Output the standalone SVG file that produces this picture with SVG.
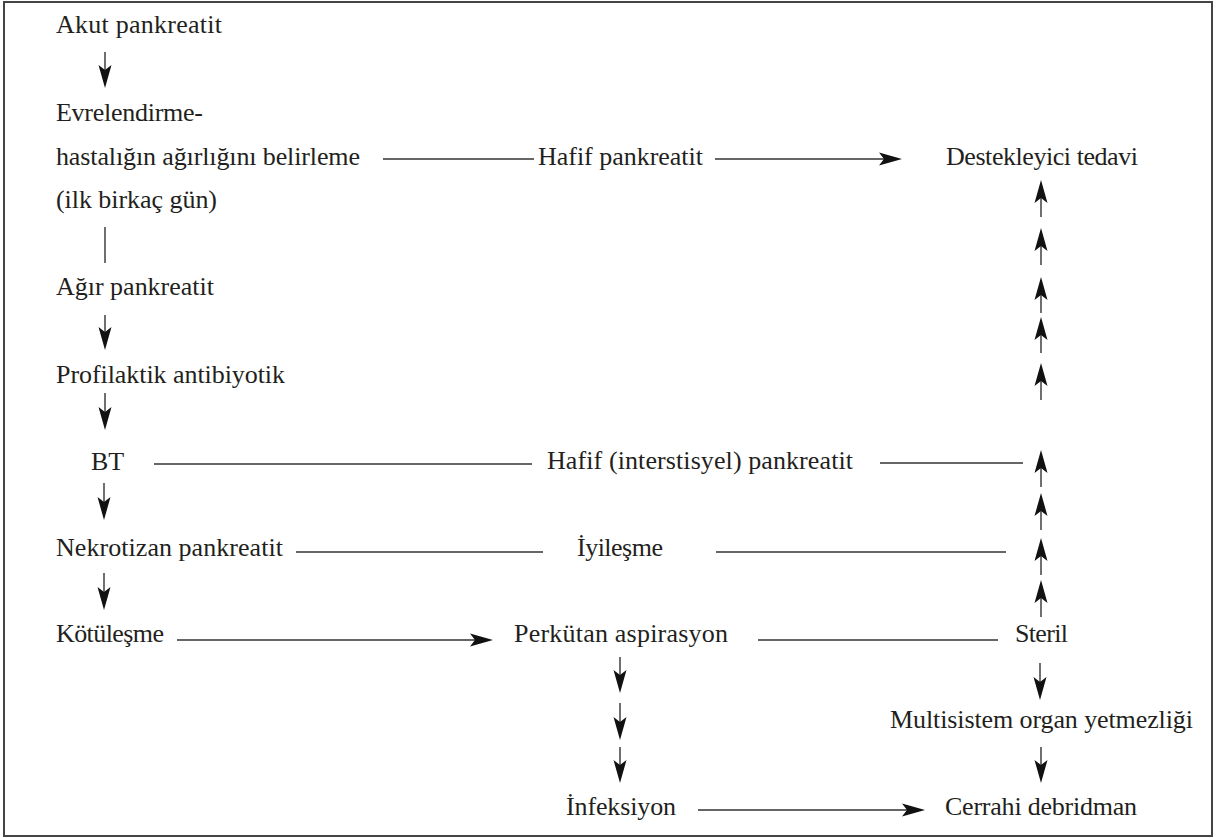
<svg xmlns="http://www.w3.org/2000/svg" width="1220" height="838" viewBox="0 0 1220 838">
<style>
text{font-family:"Liberation Serif","Times New Roman",serif;font-size:26px;fill:#231f20}
.ln{stroke:#333;stroke-width:1.4;fill:none}
.ar{stroke:#333;stroke-width:1.4;fill:none;marker-end:url(#ah)}
</style>
<defs>
<marker id="ah" viewBox="-24 -8 25 16" refX="-10" refY="0" markerWidth="25" markerHeight="16" markerUnits="userSpaceOnUse" orient="auto">
<path d="M0,0 L-23,-6.5 L-18,0 L-23,6.5 Z" fill="#111"/>
</marker>
</defs>
<rect x="4" y="2" width="1208" height="834" fill="#fff" stroke="#444" stroke-width="2"/>
<g id="nodes">
<g id="n-akut"><text x="56" y="33" textLength="166" lengthAdjust="spacing">Akut pankreatit</text></g>
<g id="n-evre"><text x="56" y="121" textLength="147" lengthAdjust="spacing">Evrelendirme-</text><text x="56" y="165" textLength="304" lengthAdjust="spacing">hastalığın ağırlığını belirleme</text><text x="56" y="208" textLength="161" lengthAdjust="spacing">(ilk birkaç gün)</text></g>
<g id="n-hafif"><text x="538" y="165" textLength="165" lengthAdjust="spacing">Hafif pankreatit</text></g>
<g id="n-destek"><text x="946" y="165" textLength="192" lengthAdjust="spacing">Destekleyici tedavi</text></g>
<g id="n-agir"><text x="56" y="295" textLength="158" lengthAdjust="spacing">Ağır pankreatit</text></g>
<g id="n-profil"><text x="56" y="383" textLength="229" lengthAdjust="spacing">Profilaktik antibiyotik</text></g>
<g id="n-bt"><text x="91" y="470">BT</text></g>
<g id="n-inter"><text x="547" y="469" textLength="306" lengthAdjust="spacing">Hafif (interstisyel) pankreatit</text></g>
<g id="n-nekro"><text x="56" y="556" textLength="227" lengthAdjust="spacing">Nekrotizan pankreatit</text></g>
<g id="n-iyi"><text x="577" y="556" textLength="86" lengthAdjust="spacing">İyileşme</text></g>
<g id="n-kotu"><text x="56" y="642" textLength="108" lengthAdjust="spacing">Kötüleşme</text></g>
<g id="n-perk"><text x="514" y="642" textLength="214" lengthAdjust="spacing">Perkütan aspirasyon</text></g>
<g id="n-steril"><text x="1015" y="642" textLength="53" lengthAdjust="spacing">Steril</text></g>
<g id="n-multi"><text x="890" y="728" textLength="303" lengthAdjust="spacing">Multisistem organ yetmezliği</text></g>
<g id="n-infek"><text x="566" y="815" textLength="110" lengthAdjust="spacing">İnfeksiyon</text></g>
<g id="n-cerrahi"><text x="945" y="815" textLength="192" lengthAdjust="spacing">Cerrahi debridman</text></g>
</g>
<g id="connectors">
<path class="ar" d="M105,52 V78"/>
<path class="ln" d="M383,159 H534"/>
<path class="ar" d="M715,159 H892"/>
<path class="ln" d="M105,227 V263"/>
<path class="ar" d="M105,315 V340"/>
<path class="ar" d="M105,393 V420"/>
<path class="ln" d="M154,464 H532"/>
<path class="ln" d="M880,463 H1023"/>
<path class="ar" d="M104,483 V510"/>
<path class="ln" d="M296,552 H543"/>
<path class="ln" d="M716,552 H1006"/>
<path class="ar" d="M104,573 V600"/>
<path class="ar" d="M177,640 H483"/>
<path class="ln" d="M758,640 H998"/>
<path class="ar" d="M620,657 V683"/>
<path class="ar" d="M620,703 V730"/>
<path class="ar" d="M620,747 V773"/>
<path class="ar" d="M698,810 H915"/>
<path class="ar" d="M1040,663 V690"/>
<path class="ar" d="M1041,747 V773"/>
<path class="ar" d="M1041,217 V190"/>
<path class="ar" d="M1041,265 V238"/>
<path class="ar" d="M1041,313 V287"/>
<path class="ar" d="M1041,353 V327"/>
<path class="ar" d="M1041,400 V373"/>
<path class="ar" d="M1041,487 V460"/>
<path class="ar" d="M1041,530 V503"/>
<path class="ar" d="M1041,575 V548"/>
<path class="ar" d="M1041,617 V590"/>
</g>
</svg>
